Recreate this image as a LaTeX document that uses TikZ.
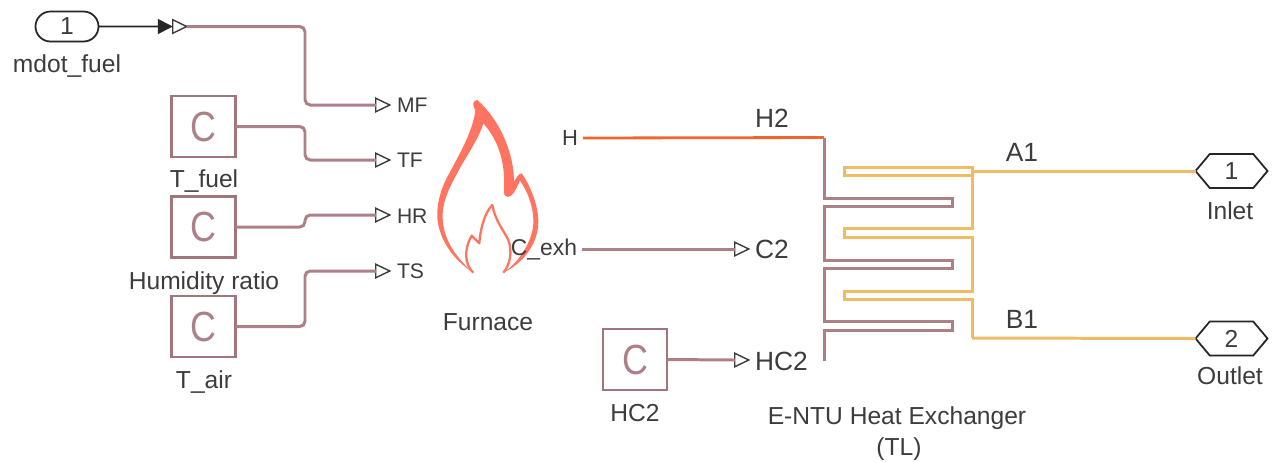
\documentclass[tikz,border=0pt]{standalone}
\usepackage{fontspec}
\setmainfont{Liberation Sans}
\usetikzlibrary{arrows.meta,shapes.geometric,shapes.misc,shapes.symbols,shadows}
\definecolor{thermal}{HTML}{AD7F87}
\definecolor{thermalin}{HTML}{A0757C}
\definecolor{gas}{HTML}{EDBC64}
\definecolor{hotline}{HTML}{F0652B}
\definecolor{flame}{HTML}{FF7461}
\definecolor{inktext}{HTML}{3C3C3C}
\begin{document}
\begin{tikzpicture}[x=0.02cm,y=-0.02cm]
\tikzset{ >=latex, inner sep=0pt, outer sep=0pt,
  wire/.style={thermal, line width=1.7pt, rounded corners=3pt},
  gaswire/.style={gas, line width=1.7pt},
  txt/.style={text=inktext, font=\fontsize{14}{16}\selectfont},
  portlab/.style={text=inktext, font=\fontsize{12}{14}\selectfont, anchor=west},
  biglab/.style={text=inktext, font=\fontsize{15}{17}\selectfont},
  port/.style={isosceles triangle, isosceles triangle stretches, draw=inktext, fill=white, line width=0.8pt, minimum width=0.27cm, minimum height=0.28cm},
  constblock/.style={draw=thermalin, line width=1.6pt, fill=white, minimum width=1.28cm, minimum height=1.22cm, text=thermal, font=\fontsize{24}{26}\selectfont},
  pill/.style={rounded rectangle, draw=black!85, fill=white, line width=1pt, minimum width=1.26cm, minimum height=0.6cm, text=inktext, font=\fontsize{14}{16}\selectfont, drop shadow={shadow xshift=0.3pt, shadow yshift=-0.5pt, opacity=0.35}},
  hexport/.style={signal, signal to=west and east, signal pointer angle=100, draw=black!85, fill=white, line width=1pt, minimum width=1.44cm, minimum height=0.68cm, text=inktext, font=\fontsize{14}{16}\selectfont, drop shadow={shadow xshift=0.3pt, shadow yshift=-0.5pt, opacity=0.35}},
}
\useasboundingbox (0,0) rectangle (1277,461);

% flame
\begin{scope}[shift={(420,90)},x=0.00667cm,y=-0.00667cm]
\fill [flame]
  (172,30) .. controls (158,30) and (156,48) .. (166,60)
  .. controls (160,120) and (120,190) .. (85,255)
  .. controls (60,300) and (50,345) .. (52,385)
  .. controls (58,450) and (100,510) .. (160,548)
  .. controls (110,505) and (70,450) .. (68,385)
  .. controls (66,330) and (90,290) .. (125,225)
  .. controls (155,175) and (180,135) .. (190,100)
  .. controls (225,140) and (258,200) .. (252,305)
  .. controls (252,325) and (270,325) .. (280,310)
  .. controls (288,298) and (296,280) .. (300,272)
  .. controls (320,300) and (342,350) .. (340,400)
  .. controls (338,450) and (300,515) .. (250,548)
  .. controls (310,520) and (355,460) .. (355,395)
  .. controls (355,345) and (330,285) .. (305,250)
  .. controls (298,250) and (290,260) .. (282,275)
  .. controls (282,190) and (240,90) .. (172,30) -- cycle;
\draw [flame, line width=1.3pt, line join=round]
  (160,548) .. controls (135,525) and (130,480) .. (155,437)
  -- (178,460) .. controls (180,420) and (195,365) .. (217,345)
  .. controls (225,390) and (250,420) .. (265,450)
  .. controls (278,485) and (270,525) .. (250,548);
\end{scope}

% inport and constants
\node [pill] (In) at (67,26.5) {1};
\node [port] (Pin) at (177,26.5) {};
\node [constblock] (Tfuel) at (203.5,126.5) {\scalebox{0.85}[1]{C}};
\node [constblock] (Hum) at (203.5,227) {\scalebox{0.85}[1]{C}};
\node [constblock] (Tair) at (203.5,326.5) {\scalebox{0.85}[1]{C}};
\node [constblock] (Hc) at (635,359.5) {\scalebox{0.85}[1]{C}};

\node [port] (MF) at (380,105) {};
\node [port] (TF) at (380,160) {};
\node [port] (HR) at (380,215) {};
\node [port] (TS) at (380,271) {};
\node [port] (Ctwo) at (739,249) {};
\node [port] (HCtwo) at (739,360) {};

\coordinate (bus) at (305,0);
\coordinate (Hcorner) at (824,137.5);
\coordinate (Acorner) at (972,171);
\coordinate (Bcorner) at (972,338);

\node [hexport] (Inlet) at (1231.5,171) {1};
\node [hexport] (Outlet) at (1231.5,338.5) {2};

\node [text=inktext, font=\fontsize{12.5}{15}\selectfont, anchor=east] (Hport) at (578,138) {H};
\node [text=inktext, font=\fontsize{13}{15}\selectfont, anchor=east] (Cexh) at (577,249) {C\_exh};

% wires
\draw [->, >={Triangle[length=0.3cm,width=0.3cm]}, black!85, line width=0.9pt] (In) -- (Pin.west);
\draw [wire] (Pin.apex) -- (bus |- Pin.apex) -- (bus |- MF.west) -- (MF.west);
\draw [wire] (Tfuel.east) -- (bus |- Tfuel.east) -- (bus |- TF.west) -- (TF.west);
\draw [wire] (Hum.east) -- (bus |- Hum.east) -- (bus |- HR.west) -- (HR.west);
\draw [wire] (Tair.east) -- (bus |- Tair.east) -- (bus |- TS.west) -- (TS.west);
\draw [wire] (Hc.east) -- (HCtwo.west);
\draw [wire] (Cexh.east) ++(5,0) -- (Ctwo.west);
\draw [hotline, line width=1.6pt] (Hport.east) ++(5,0) -- (Hcorner);

% heat exchanger
\draw [thermal, line width=1.7pt, line join=miter]
  (Hcorner) -- (824,198) -- (952,198) -- (952,206.5) -- (824,206.5)
  -- (824,260) -- (952,260) -- (952,268.5) -- (824,268.5)
  -- (824,321) -- (952,321) -- (952,330) -- (824,330) -- (824,361);
\draw [gaswire]
  (972,175) -- (844,175) -- (844,167) -- (972,167) -- (972,228)
  -- (844,228) -- (844,237) -- (972,237) -- (972,291)
  -- (844,291) -- (844,299) -- (972,299) -- (Bcorner);
\draw [gaswire] (Acorner) -- (Inlet.west);
\draw [gaswire] (Bcorner) -- (Outlet.west);

% labels
\node [txt] (mdot) at (67,66) {mdot\_fuel};
\node [txt] (Tfuellab) at (204,181) {T\_fuel};
\node [txt] (Humlab) at (204,283) {Humidity ratio};
\node [txt] (Tairlab) at (204,382) {T\_air};
\node [txt] (HClab) at (635,413) {HC2};
\node [txt] (Furn) at (488,322) {Furnace};
\node [txt] (Hx) at (897,418) {E-NTU Heat Exchanger};
\node [txt] (TL) at (899,449) {(TL)};
\node [txt] (Inl) at (1230,211) {Inlet};
\node [txt] (Outl) at (1230,376) {Outlet};

\node [portlab] at (397,105) {MF};
\node [portlab] at (397,160) {TF};
\node [portlab] at (397,216) {HR};
\node [portlab] at (397,271) {TS};
\node [biglab] at (772,118) {H2};
\node [biglab, anchor=west] at (755,249) {C2};
\node [biglab, anchor=west] at (755,361) {HC2};
\node [biglab] at (1022,152) {A1};
\node [biglab] at (1022,319) {B1};
\end{tikzpicture}
\end{document}
